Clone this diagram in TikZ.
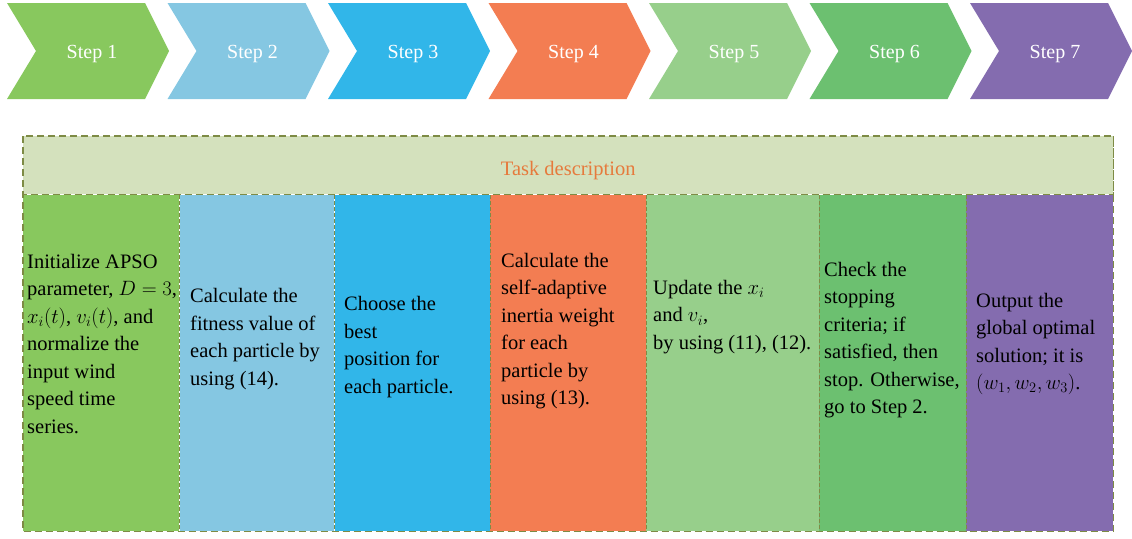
\documentclass[tikz,border=0pt]{standalone}
\usepackage{fontspec}
\setmainfont{Liberation Serif}
\definecolor{c1}{HTML}{88C85E}
\definecolor{c2}{HTML}{85C7E2}
\definecolor{c3}{HTML}{31B6E9}
\definecolor{c4}{HTML}{F37D52}
\definecolor{c5}{HTML}{97CF8B}
\definecolor{c6}{HTML}{6CC070}
\definecolor{c7}{HTML}{846CAF}
\definecolor{hdr}{HTML}{D4E1BD}
\definecolor{olive}{HTML}{7E8B45}
\definecolor{taskor}{HTML}{E67A3C}
\tikzset{
  steplabel/.style={text=white, inner sep=0pt, font=\fontsize{20}{24}\selectfont},
  coltext/.style={anchor=west, align=left, inner sep=0pt, text=black, font=\fontsize{20.5}{27.5}\selectfont},
  colbox/.style={draw=none, inner sep=0pt, anchor=north west, minimum height=336pt},
  olivedash/.style={draw=olive, line width=1.6pt, dash pattern=on 7pt off 4pt},
  sepdash/.style={draw=olive, line width=1pt, dash pattern=on 4pt off 2pt},
}
\begin{document}
\begin{tikzpicture}[x=1pt,y=-1pt]
\useasboundingbox (0,0) rectangle (1132,538);
% chevrons
\foreach \k/\c in {1/c1,2/c2,3/c3,4/c4,5/c5,6/c6,7/c7}{
  \pgfmathsetmacro{\L}{7+160.5*(\k-1)}
  \fill[\c] (\L,3) -- ++(138,0) -- ++(24,48) -- ++(-24,48) -- ++(-138,0) -- ++(29,-48) -- cycle;
  \node[steplabel] (s\k) at (\L+85,54) {Step \k};
}
% columns
\node[colbox, fill=c1, minimum width=156pt] (col1) at (23,195) {};
\node[colbox, fill=c2, minimum width=155pt] (col2) at (179,195) {};
\node[colbox, fill=c3, minimum width=156pt] (col3) at (334,195) {};
\node[colbox, fill=c4, minimum width=156pt] (col4) at (490,195) {};
\node[colbox, fill=c5, minimum width=173pt] (col5) at (646,195) {};
\node[colbox, fill=c6, minimum width=147pt] (col6) at (819,195) {};
\node[colbox, fill=c7, minimum width=147pt] (col7) at (966,195) {};
% separators
\draw[white, line width=1pt] (col1.north east) -- (col1.south east);
\draw[white, line width=1pt] (col2.north east) -- (col2.south east);
\foreach \i in {1,...,6}{
  \draw[sepdash] (col\i.north east) -- (col\i.south east);
}
% header
\node[draw=none, fill=hdr, inner sep=0pt, anchor=north west, minimum width=1090pt, minimum height=58pt] (header) at (23,136) {};
\node[text=taskor, inner sep=0pt, font=\fontsize{20.5}{24}\selectfont] (task) at ([yshift=-5pt]header.center) {Task description};
\draw[olivedash] (header.north west) rectangle (header.south east);
\draw[olivedash] (header.north west) -- (col1.south west) -- (col7.south east) -- (header.north east);
% texts
\node[coltext] (t1) at (27,344) {Initialize APSO\\parameter, $D=3$,\\$x_i(t)$, $v_i(t)$, and\\normalize the\\input wind\\speed time\\series.};
\node[coltext] (t2) at (190,339) {Calculate the\\fitness value of\\each particle by\\using (14).};
\node[coltext] (t3) at (344,347) {Choose the\\best\\position for\\each particle.};
\node[coltext] (t4) at (501,331) {Calculate the\\self-adaptive\\inertia weight\\for each\\particle by\\using (13).};
\node[coltext] (t5) at (653,317) {Update the $x_i$\\and $v_i$,\\by using (11), (12).};
\node[coltext] (t6) at (824,340) {Check the\\stopping\\criteria; if\\satisfied, then\\stop. Otherwise,\\go to Step 2.};
\node[coltext] (t7) at (976,344) {Output the\\global optimal\\solution; it is\\$(w_1, w_2, w_3)$.};
\end{tikzpicture}
\end{document}
